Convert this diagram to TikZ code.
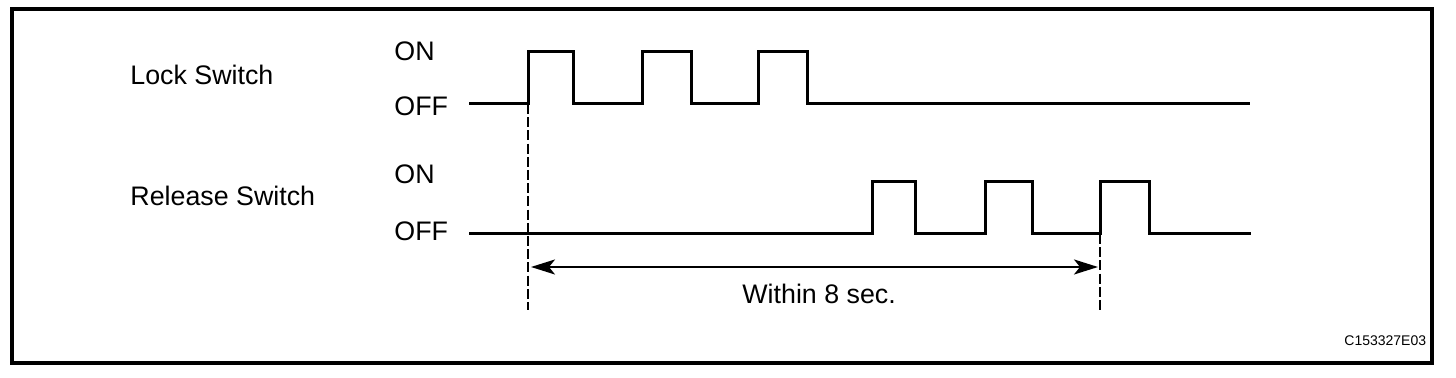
\documentclass[tikz,border=0pt]{standalone}
\usepackage{fontspec}
\setmainfont{Liberation Sans}
\usetikzlibrary{arrows.meta, positioning}
\tikzset{
  frameline/.style = {line width=1.6pt, black},
  sigline/.style   = {line width=1.5pt, black},
  guideline/.style = {line width=0.9pt, black, dash pattern=on 5pt off 1.6pt},
  spanline/.style  = {{Stealth[length=12pt, width=7.5pt, inset=3pt]}-{Stealth[length=12pt, width=7.5pt, inset=3pt]},
                      line width=1.1pt, black},
  lbl/.style       = {inner sep=0pt, anchor=base west, font=\fontsize{13.4}{15}\selectfont},
  slbl/.style      = {inner sep=0pt, anchor=base west, font=\fontsize{7}{8}\selectfont},
}

\begin{document}
\begin{tikzpicture}[x=0.5pt, y=-0.5pt]
  \useasboundingbox (0,0) rectangle (1456,378);
  \draw[frameline] (12,9) rectangle (1432,363);

  % signal names and levels
  \node[lbl] (lockname) at (130,85)  {Lock Switch};
  \node[lbl] (lockon)   at (394,61)  {ON};
  \node[lbl] (lockoff)  at (394,116) {OFF};
  \node[lbl] (relname)  at (130,206) {Release Switch};
  \node[lbl] (relon)    at (394,184) {ON};
  \node[lbl] (reloff)   at (394,241) {OFF};

  % waveforms
  \draw[sigline] (469,104) -| (528,52) -| (573,104) -| (642,52) -| (691,104)
                 -| (758,52) -| (807,104) -- (1250,104);
  \draw[sigline] (469,234) -| (872,182) -| (915,234) -| (985,182) -| (1032,234)
                 -| (1100,182) -| (1149,234) -- (1251,234);

  % timing span
  \coordinate (lockrise) at (528,104);
  \coordinate (relrise)  at (1100,234);
  \coordinate (lockend)  at (528,310);
  \coordinate (relend)   at (1100,310);
  \draw[guideline] (lockrise) -- (lockend);
  \draw[guideline] (relrise) -- (relend);
  \coordinate (spanl) at (531,267);
  \coordinate (spanr) at (1098,267);
  \draw[spanline] (spanl) -- (spanr);
  \node[lbl] (spantext) at (742,304) {Within 8 sec.};

  \node[slbl] (figid) at (1344,346) {C153327E03};
\end{tikzpicture}
\end{document}
